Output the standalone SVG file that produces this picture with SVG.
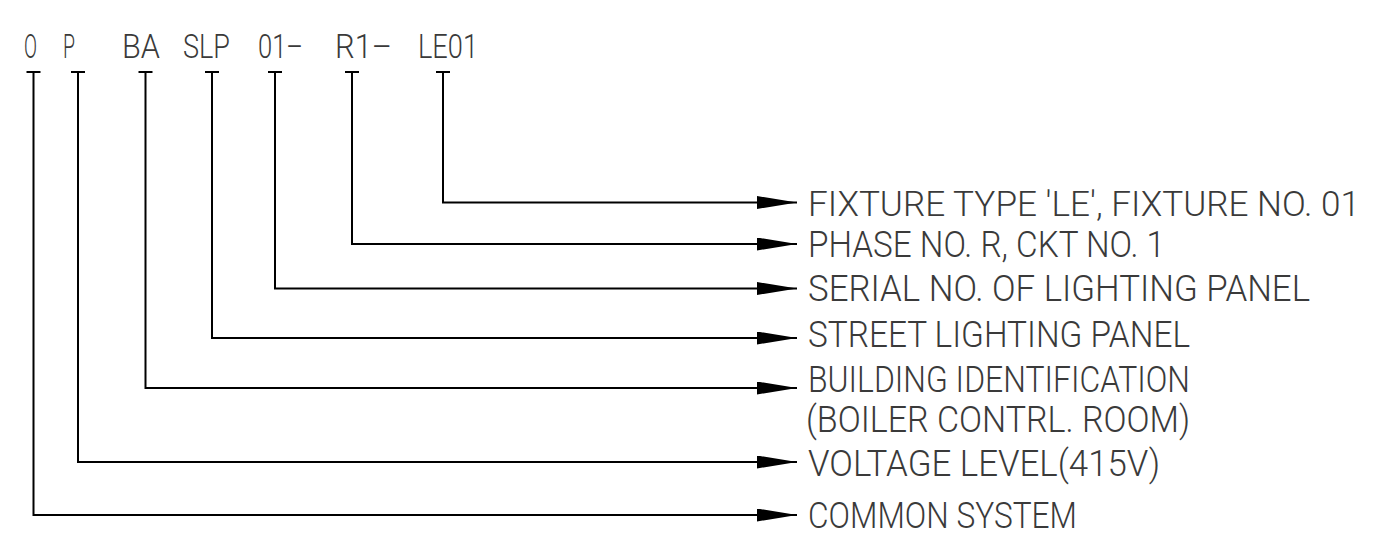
<svg xmlns="http://www.w3.org/2000/svg" width="1375" height="549" viewBox="0 0 1375 549">
<style>
.t{font-family:Roboto,"Liberation Sans",sans-serif;font-weight:300;font-size:36.5px;fill:#3a3a3a}
.tt{font-family:Roboto,"Liberation Sans",sans-serif;font-weight:300;font-size:34px;fill:#3a3a3a}
.c{fill:none;stroke:#000;stroke-width:2}
.tick{stroke:#000;stroke-width:2}
</style>
<defs>
<marker id="ah" viewBox="0 0 40 13" refX="40" refY="6.5" markerWidth="40" markerHeight="13" markerUnits="userSpaceOnUse" orient="auto">
<path d="M0,0 L40,6.5 L0,13 z" fill="#000"/>
</marker>
</defs>
<rect width="1375" height="549" fill="#fff"/>
<g id="code">
<text class="tt" x="24" y="58" textLength="13" lengthAdjust="spacingAndGlyphs">O</text>
<text class="tt" x="63" y="58" textLength="12" lengthAdjust="spacingAndGlyphs">P</text>
<text class="tt" x="122" y="58" textLength="38" lengthAdjust="spacingAndGlyphs">BA</text>
<text class="tt" x="183" y="58" textLength="47" lengthAdjust="spacingAndGlyphs">SLP</text>
<text class="tt" x="258" y="58" textLength="45" lengthAdjust="spacingAndGlyphs">01–</text>
<text class="tt" x="335" y="58" textLength="57" lengthAdjust="spacingAndGlyphs">R1–</text>
<text class="tt" x="418" y="58" textLength="60" lengthAdjust="spacingAndGlyphs">LE01</text>
</g>
<g id="ticks">
<line class="tick" x1="26.5" y1="72" x2="40.5" y2="72"/>
<line class="tick" x1="71" y1="72" x2="85" y2="72"/>
<line class="tick" x1="138.5" y1="72" x2="152.5" y2="72"/>
<line class="tick" x1="205" y1="72" x2="219" y2="72"/>
<line class="tick" x1="268" y1="72" x2="282" y2="72"/>
<line class="tick" x1="345" y1="72" x2="359" y2="72"/>
<line class="tick" x1="436" y1="72" x2="450" y2="72"/>
</g>
<g id="connectors">
<path class="c" d="M443,72 V202.5 H797" marker-end="url(#ah)"/>
<path class="c" d="M352,72 V244 H797" marker-end="url(#ah)"/>
<path class="c" d="M275,72 V288.5 H797" marker-end="url(#ah)"/>
<path class="c" d="M212,72 V338 H797" marker-end="url(#ah)"/>
<path class="c" d="M145.5,72 V388 H797" marker-end="url(#ah)"/>
<path class="c" d="M78,72 V462 H797" marker-end="url(#ah)"/>
<path class="c" d="M33.5,72 V515 H797" marker-end="url(#ah)"/>
</g>
<g id="n-fixture"><text class="t" x="808" y="216" textLength="552" lengthAdjust="spacingAndGlyphs" style="font-size:34.5px">FIXTURE TYPE 'LE', FIXTURE NO. 01</text></g>
<g id="n-phase"><text class="t" x="808" y="257" textLength="357" lengthAdjust="spacingAndGlyphs">PHASE NO. R, CKT NO. 1</text></g>
<g id="n-serial"><text class="t" x="808" y="301" textLength="502" lengthAdjust="spacingAndGlyphs">SERIAL NO. OF LIGHTING PANEL</text></g>
<g id="n-street"><text class="t" x="808" y="347" textLength="382" lengthAdjust="spacingAndGlyphs">STREET LIGHTING PANEL</text></g>
<g id="n-building">
<text class="t" x="808" y="392" textLength="382" lengthAdjust="spacingAndGlyphs">BUILDING IDENTIFICATION</text>
<text class="t" x="806" y="432" textLength="384" lengthAdjust="spacingAndGlyphs">(BOILER CONTRL. ROOM)</text>
</g>
<g id="n-voltage"><text class="t" x="808" y="476" textLength="352" lengthAdjust="spacingAndGlyphs">VOLTAGE LEVEL(415V)</text></g>
<g id="n-common"><text class="t" x="808" y="528" textLength="269" lengthAdjust="spacingAndGlyphs">COMMON SYSTEM</text></g>
</svg>
